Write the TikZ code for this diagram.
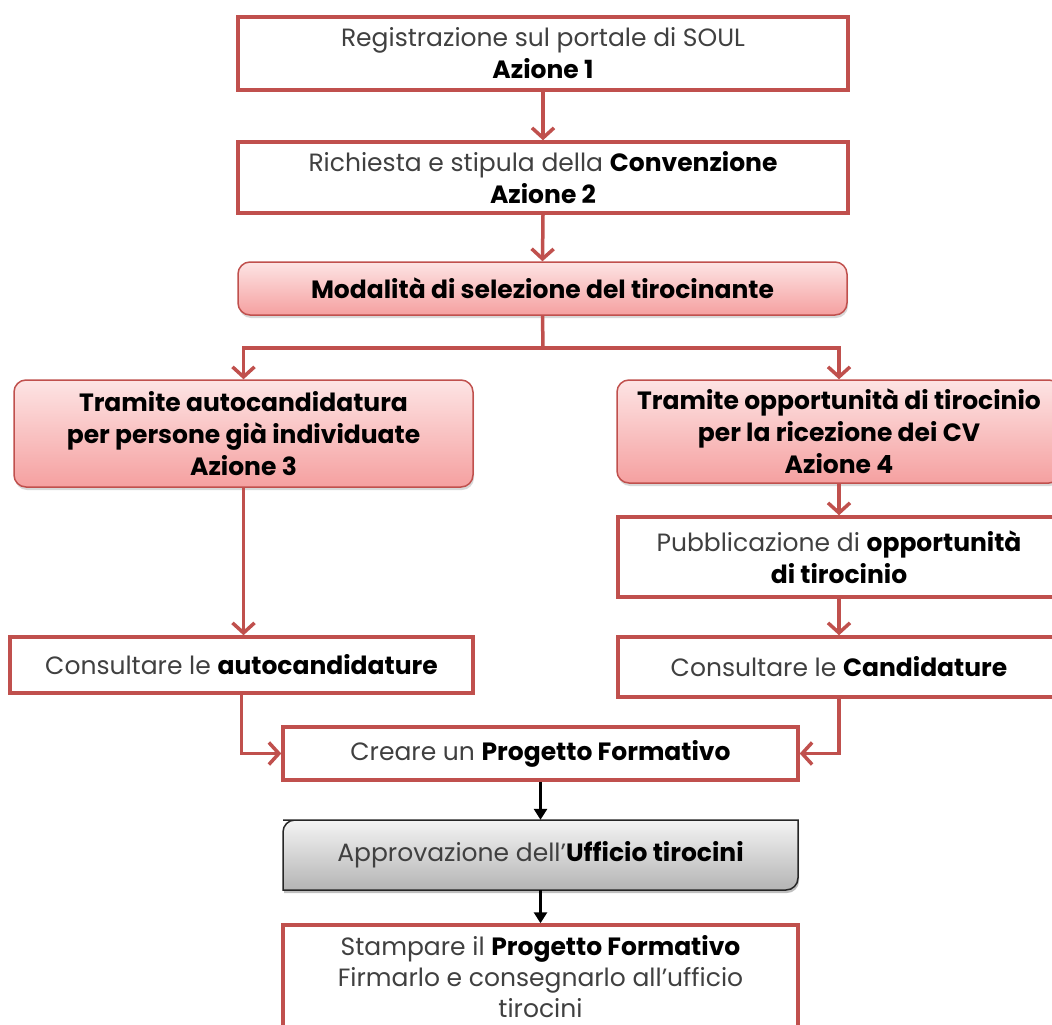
\documentclass[tikz,border=0pt]{standalone}
\usepackage{fontspec}
\setmainfont{Poppins}
\usetikzlibrary{arrows.meta,shadows}
\definecolor{accred}{HTML}{C0504D}
\definecolor{txtgray}{HTML}{404040}
\definecolor{pinktop}{HTML}{FDE4E4}
\definecolor{pinkbot}{HTML}{F5A0A0}
\definecolor{graytop}{HTML}{F4F4F4}
\definecolor{graybot}{HTML}{B4B4B4}
\newcommand{\B}[1]{{\bfseries\color{black}#1}}
\begin{document}
\begin{tikzpicture}[x=1pt,y=-1pt,
  font=\fontsize{25}{32}\selectfont,
  plainbox/.style={draw=accred, line width=3.5pt, fill=white, inner sep=0pt, align=center, text=txtgray},
  pinkbox/.style={draw=accred, line width=1.5pt, rounded corners=12pt, top color=pinktop, bottom color=pinkbot,
    inner sep=0pt, align=center, text=black, font=\fontsize{25}{32}\selectfont\bfseries,
    drop shadow={shadow xshift=1pt, shadow yshift=-3pt, opacity=0.3}},
  redarrow/.style={draw=accred, line width=3.5pt, -{Straight Barb[length=10pt,width=22pt]}},
  redline/.style={draw=accred, line width=3.5pt},
  blackarrow/.style={draw=black, line width=3pt, -{Triangle[length=11pt,width=13pt]}}
]
\useasboundingbox[fill=white] (0,0) rectangle (1052,1025);

% boxes
\node[plainbox, minimum width=610pt, minimum height=73pt] (b1) at (543,53.5)
  {Registrazione sul portale di SOUL\\\B{Azione 1}};
\node[plainbox, minimum width=610pt, minimum height=71pt] (b2) at (543,177.5)
  {Richiesta e stipula della \B{Convenzione}\\\B{Azione 2}};
\node[pinkbox, minimum width=609pt, minimum height=53pt] (b3) at (542.5,288.5)
  {Modalità di selezione del tirocinante};
\coordinate (j) at (543,348);
\node[pinkbox, minimum width=459pt, minimum height=107pt] (b4) at (243.5,433.5)
  {Tramite autocandidatura\\per persone già individuate\\Azione 3};
\node[pinkbox, minimum width=444pt, minimum height=103pt] (b5) at (839,431.5)
  {Tramite opportunità di tirocinio\\per la ricezione dei CV\\Azione 4};
\node[plainbox, minimum width=442pt, minimum height=80pt] (p) at (839,557)
  {Pubblicazione di \B{opportunità}\\\B{di tirocinio}};
\node[plainbox, minimum width=442pt, minimum height=60pt] (cand) at (839,667)
  {Consultare le \B{Candidature}};
\node[plainbox, minimum width=463pt, minimum height=56pt] (c1) at (241.5,665)
  {Consultare le \B{autocandidature}};
\node[plainbox, minimum width=515pt, minimum height=53pt] (cr) at (540.5,753.5)
  {Creare un \B{Progetto Formativo}};

% gray box with two rounded corners
\fill[black, opacity=0.25] (284,823) -- (799,823) -- (799,881) arc[start angle=0,end angle=-90,radius=12pt]
  -- (284,893) -- (284,835) arc[start angle=180,end angle=90,radius=12pt] -- cycle;
\draw[line width=1.5pt, draw=black!85, top color=graytop, bottom color=graybot]
  (283,820) -- (798,820) -- (798,878) arc[start angle=0,end angle=-90,radius=12pt]
  -- (283,890) -- (283,832) arc[start angle=180,end angle=90,radius=12pt] -- cycle;
\node[inner sep=0pt, minimum width=515pt, minimum height=70pt, text=txtgray] (g) at (540.5,855)
  {Approvazione dell'\B{Ufficio tirocini}};

\node[plainbox, minimum width=515pt, minimum height=104pt, font=\fontsize{25}{31}\selectfont] (bt) at (540.5,977)
  {Stampare il \B{Progetto Formativo}\\Firmarlo e consegnarlo all'ufficio\\tirocini};

% connectors
\draw[redarrow] (b1.south) -- (b2.north);
\draw[redarrow] (b2.south) -- (b3.north);
\draw[redline] (b3.south) -- (j);
\draw[redarrow] (j) -| (b4.north);
\draw[redarrow] (j) -| (b5.north);
\draw[redarrow] (b4.south) -- (b4.south |- c1.north);
\draw[redarrow] (b5.south) -- (p.north);
\draw[redarrow] (p.south) -- (cand.north);
\draw[redarrow] (c1.south) |- (cr.west);
\draw[redarrow] (cand.south) |- (cr.east);
\draw[blackarrow] (cr.south) -- (g.north);
\draw[blackarrow] (g.south) -- (bt.north);
\end{tikzpicture}
\end{document}
